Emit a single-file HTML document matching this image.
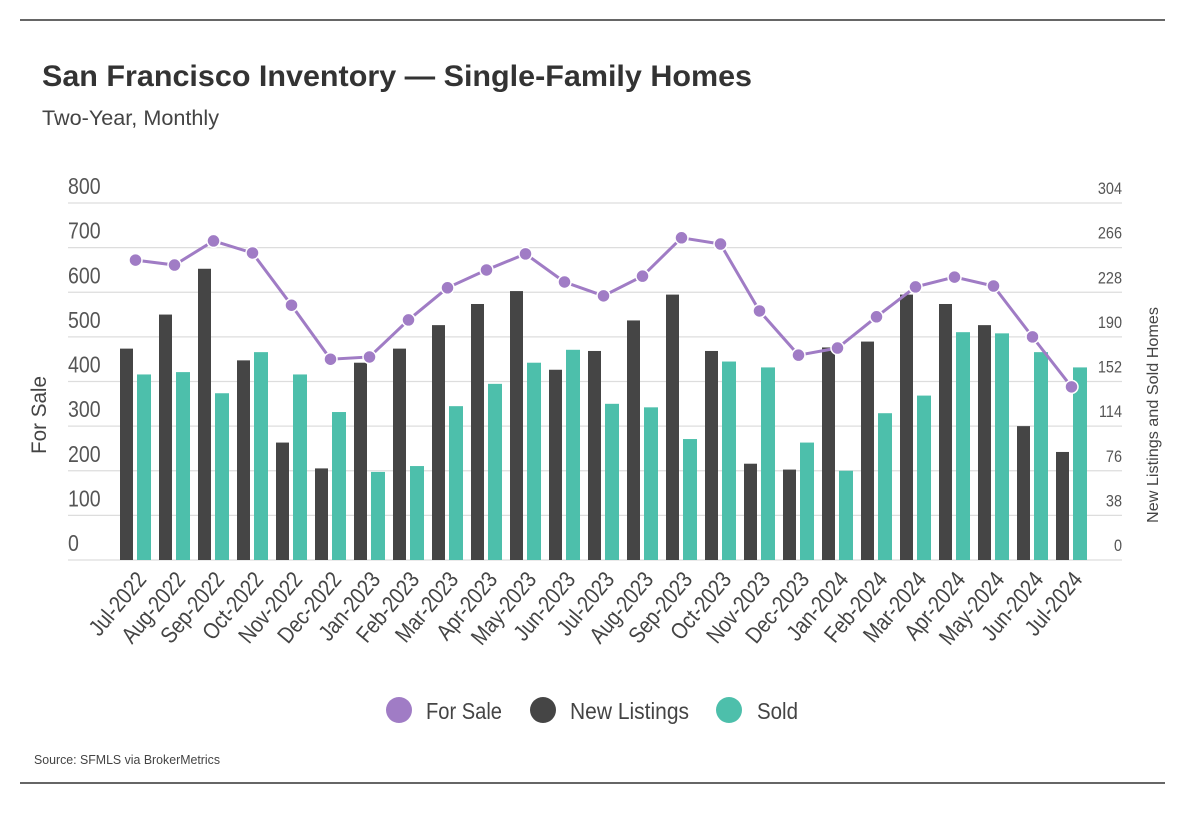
<!DOCTYPE html>
<html><head><meta charset="utf-8"><style>
html,body{margin:0;padding:0;background:#fff;}
svg text{font-family:"Liberation Sans",sans-serif;}
</style></head><body>
<svg id="chart" width="1188" height="822" viewBox="0 0 1188 822" xmlns="http://www.w3.org/2000/svg">
<line x1="20" y1="20" x2="1165" y2="20" stroke="#333" stroke-width="1.5"/>
<line x1="20" y1="783" x2="1165" y2="783" stroke="#333" stroke-width="1.5"/>
<text x="42" y="86" font-size="30" font-weight="bold" fill="#333" textLength="710" lengthAdjust="spacingAndGlyphs">San Francisco Inventory — Single-Family Homes</text>
<text x="42" y="125" font-size="21" fill="#444" textLength="177" lengthAdjust="spacingAndGlyphs">Two-Year, Monthly</text>
<g id="grid"></g><g id="bars"></g><g id="line"></g><g id="axes"></g>
<text transform="translate(46,415) rotate(-90)" font-size="21" fill="#444" text-anchor="middle" textLength="78" lengthAdjust="spacingAndGlyphs">For Sale</text>
<text transform="translate(1158,415) rotate(-90)" font-size="16" fill="#444" text-anchor="middle" textLength="216" lengthAdjust="spacingAndGlyphs">New Listings and Sold Homes</text>
<g>
<circle cx="399" cy="710" r="13" fill="#a07cc5"/>
<text x="426" y="719" font-size="23" fill="#444" textLength="76" lengthAdjust="spacingAndGlyphs">For Sale</text>
<circle cx="543" cy="710" r="13" fill="#454545"/>
<text x="570" y="719" font-size="23" fill="#444" textLength="119" lengthAdjust="spacingAndGlyphs">New Listings</text>
<circle cx="729" cy="710" r="13" fill="#4dbfab"/>
<text x="757" y="719" font-size="23" fill="#444" textLength="41" lengthAdjust="spacingAndGlyphs">Sold</text>
</g>
<text x="34" y="764" font-size="13" fill="#444" textLength="186" lengthAdjust="spacingAndGlyphs">Source:  SFMLS via BrokerMetrics</text>
</svg>
<script>
const categories=["Jul-2022","Aug-2022","Sep-2022","Oct-2022","Nov-2022","Dec-2022","Jan-2023","Feb-2023","Mar-2023","Apr-2023","May-2023","Jun-2023","Jul-2023","Aug-2023","Sep-2023","Oct-2023","Nov-2023","Dec-2023","Jan-2024","Feb-2024","Mar-2024","Apr-2024","May-2024","Jun-2024","Jul-2024"];
const forSale=[672,661,715,688,571,450,455,538,610,650,686,623,592,636,722,708,558,459,475,545,612,634,614,500,388];
const newListings=[180,209,248,170,100,78,168,180,200,218,229,162,178,204,226,178,82,77,181,186,226,218,200,114,92];
const sold=[158,160,142,177,158,126,75,80,131,150,168,179,133,130,103,169,164,100,76,125,140,194,193,177,164];
const leftTicks=[0,100,200,300,400,500,600,700,800];
const rightTicks=[0,38,76,114,152,190,228,266,304];
const NS="http://www.w3.org/2000/svg";
const yTop=203,yBot=560,xL=68,xR=1122,c0=135.5,band=39;
const yL=v=>yBot-(v/800)*(yBot-yTop);
const yR=v=>yBot-(v/304)*(yBot-yTop);
const xC=i=>c0+i*band;
function mk(tag,attrs,parent){const e=document.createElementNS(NS,tag);for(const k in attrs)e.setAttribute(k,attrs[k]);parent.appendChild(e);return e;}
const grid=document.getElementById('grid'),axes=document.getElementById('axes'),bars=document.getElementById('bars'),lineG=document.getElementById('line');
leftTicks.forEach((t,i)=>{
  const y=yL(t);
  const g=mk('line',{x1:xL,x2:xR,y1:y,y2:y,stroke:'#ddd','stroke-width':1.2},grid);
  
  
  const lt=mk('text',{transform:`translate(68,${y-9}) scale(0.85,1)`,'font-size':23,fill:'#555'},axes);
  lt.textContent=t;
  
  
  const rt=mk('text',{transform:`translate(1122,${y-9}) scale(0.85,1)`,'font-size':17,fill:'#555','text-anchor':'end'},axes);
  rt.textContent=rightTicks[i];
  
  
});
categories.forEach((c,i)=>{
  const cx=xC(i);
  const b1=mk('rect',{x:cx-15.5,y:yR(newListings[i]),width:13,height:yBot-yR(newListings[i]),fill:'#454545'},bars);
  
  
  const b2=mk('rect',{x:cx+1.5,y:yR(sold[i]),width:14,height:yBot-yR(sold[i]),fill:'#4dbfab'},bars);
  
  
  const t=mk('text',{transform:`translate(${cx+12},${580}) rotate(-50) scale(0.85,1)`,'font-size':23,fill:'#444','text-anchor':'end'},axes);
  t.textContent=c;
  
  
});
const pts=forSale.map((v,i)=>xC(i)+','+yL(v)).join(' ');
const pl=mk('polyline',{points:pts,fill:'none',stroke:'#a07cc5','stroke-width':3},lineG);


forSale.forEach((v,i)=>{
  const p=mk('circle',{cx:xC(i),cy:yL(v),r:6.5,fill:'#a07cc5',stroke:'#fff','stroke-width':1.5},lineG);
  
  
});
</script>
</body></html>
